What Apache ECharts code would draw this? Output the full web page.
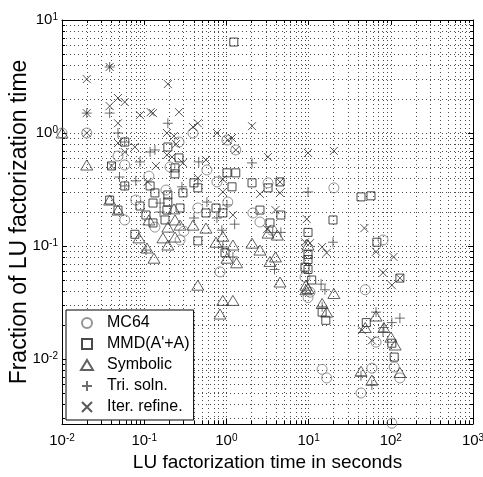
<!DOCTYPE html>
<html><head><meta charset="utf-8">
<script src="https://cdn.jsdelivr.net/npm/echarts@6/dist/echarts.min.js"></script>
<style>html,body{margin:0;padding:0;background:#fff}#c{width:483px;height:477px}</style>
</head><body><div id="c"></div>
<script>
const seriesNames = ['MC64', "MMD(A'+A)", 'Symbolic', 'Tri. soln.', 'Iter. refine.'];
const xTickExps = [-2, -1, 0, 1, 2, 3];
const yTickExps = [-2, -1, 0, 1];
const minorMult = [2, 3, 4, 5, 6, 7, 8, 9];
const xMin = 0.01, xMax = 1000, yMin = 0.00266, yMax = 10;
const xTitle = 'LU factorization time in seconds';
const yTitle = 'Fraction of LU factorization time';

const mc64 = [[0.01,1.0],[0.02,1.0],[0.048,0.626],[0.058,0.521],[0.206,0.501],[0.265,0.832],[0.114,0.415],[0.184,0.313],[0.058,0.170],[0.079,0.255],[0.135,0.147],[0.304,0.135],[0.449,0.217],[0.273,0.113],[0.392,1.0],[0.579,0.471],[0.767,0.369],[1.016,0.867],[1.30,0.708],[1.04,0.245],[3.21,0.362],[20.3,0.327],[2.10,0.196],[2.56,0.163],[3.56,0.138],[0.836,0.059],[9.04,0.053],[10.4,0.039],[9.84,0.035],[80.4,0.113],[48.9,0.041],[66.1,0.0141],[110,0.0085],[58.8,0.0083],[129,0.0068],[14.6,0.0081],[16.6,0.0068],[43.4,0.0050],[103,0.0027]];
const mmd = [[0.058,0.832],[0.04,0.511],[0.038,0.255],[0.048,0.208],[0.058,0.340],[0.194,0.752],[0.265,0.602],[0.237,0.491],[0.237,0.435],[0.118,0.340],[0.135,0.295],[0.403,0.362],[0.449,0.327],[0.194,0.283],[0.194,0.245],[0.296,0.295],[0.0888,0.226],[0.128,0.240],[0.189,0.208],[0.273,0.217],[0.105,0.188],[0.128,0.160],[0.179,0.170],[0.077,0.127],[0.449,0.111],[0.564,0.196],[0.747,0.217],[1.016,0.444],[1.30,0.444],[1.17,0.334],[2.05,0.362],[3.21,0.327],[4.49,0.369],[1.23,6.38],[2.56,0.208],[0.905,0.196],[0.962,0.087],[4.60,0.188],[3.39,0.160],[9.84,0.132],[9.84,0.084],[9.84,0.076],[9.04,0.065],[9.84,0.062],[10.9,0.050],[14.6,0.026],[16.2,0.022],[19.8,0.170],[43.4,0.272],[57.4,0.278],[67.7,0.108],[129,0.052],[50.3,0.021],[103,0.0138],[110,0.0104]];
const symbolic = [[0.01,1.0],[0.02,0.521],[0.038,0.255],[0.048,0.208],[0.23,0.213],[0.114,0.170],[0.194,0.147],[0.237,0.170],[0.273,0.153],[0.392,0.153],[0.0864,0.118],[0.169,0.118],[0.194,0.102],[0.237,0.120],[0.108,0.096],[0.1316,0.078],[0.449,0.045],[0.564,0.144],[0.905,0.122],[0.747,0.108],[1.016,0.078],[1.20,0.102],[1.33,0.071],[2.05,0.106],[2.56,0.092],[3.39,0.073],[3.95,0.080],[3.21,0.130],[4.17,0.125],[4.49,0.048],[0.905,0.033],[1.20,0.033],[0.836,0.025],[9.84,0.102],[9.27,0.045],[9.84,0.042],[9.27,0.041],[14.6,0.031],[16.6,0.026],[20.3,0.038],[66.1,0.024],[48.9,0.019],[82.3,0.019],[100.5,0.0156],[113,0.0133],[43.4,0.0078],[58.8,0.0065],[129,0.0076]];
const triSoln = [[0.02,1.50],[0.038,3.84],[0.038,1.50],[0.048,1.0],[0.118,0.679],[0.135,0.708],[0.0888,0.555],[0.05,0.408],[0.058,0.340],[0.058,0.832],[0.079,0.377],[0.156,0.240],[0.156,0.200],[0.403,0.177],[0.194,1.22],[0.461,0.555],[0.288,0.334],[0.579,0.245],[1.016,0.231],[2.05,0.544],[9.84,0.301],[0.767,0.177],[1.26,0.156],[0.881,0.138],[0.905,0.098],[1.20,0.080],[3.66,0.132],[4.60,0.132],[3.85,0.062],[14.2,0.046],[15.8,0.041],[19.8,0.108],[66.1,0.026],[80.4,0.0174],[82.3,0.019],[103,0.021],[129,0.023],[43.4,0.0071],[58.8,0.0059],[0.105,0.092],[14.6,0.029]];
const iterRefine = [[0.02,3.0],[0.038,3.84],[0.02,1.50],[0.02,1.0],[0.038,1.73],[0.048,2.04],[0.058,1.88],[0.0888,1.44],[0.12,1.53],[0.128,1.50],[0.265,1.53],[0.194,2.71],[0.048,1.22],[0.189,1.0],[0.23,0.94],[0.048,0.815],[0.077,0.752],[0.189,0.639],[0.218,0.614],[0.244,0.798],[0.139,0.511],[0.11,0.369],[0.058,0.679],[0.296,0.544],[0.449,1.22],[0.392,1.13],[0.767,1.0],[0.564,0.577],[0.449,0.400],[0.905,0.39],[2.05,1.15],[1.04,0.867],[1.17,0.903],[1.30,0.708],[3.21,0.614],[9.84,0.666],[20.3,0.694],[2.56,0.289],[4.49,0.295],[4.49,0.369],[0.905,0.301],[1.20,0.188],[3.95,0.208],[3.12,0.141],[9.5,0.173],[9.04,0.108],[10.4,0.106],[14.6,0.098],[16.6,0.087],[47.7,0.144],[66.1,0.089],[108,0.080],[80.4,0.058],[129,0.052],[103,0.045],[44.5,0.018],[58.8,0.0146],[0.04,0.511]];

const FONT = "'Liberation Sans', Arial, Helvetica, sans-serif";
const seriesData = [mc64, mmd, symbolic, triSoln, iterRefine];
const symbols = ['circle', 'path://M0,0L10,0L10,10L0,10Z', 'path://M6,0L12,10L0,10Z', 'path://M5,0L5,10M0,5L10,5', 'path://M0,0L10,10M0,10L10,0'];
const sizes = [10, 8, 12, 10, 8];
const colors = ['#7a7a7a', '#1e1e1e', '#3a3a3a', '#4a4a4a', '#2e2e2e'];

// minor grid positions (2..9 within each decade) for the log axes
const minorLines = [];
xTickExps.forEach(d => minorMult.forEach(m => { const v = m * Math.pow(10, d); if (v > xMin && v < xMax) minorLines.push([v, 1, 0]); }));
[-3].concat(yTickExps).forEach(d => minorMult.forEach(m => { const v = m * Math.pow(10, d); if (v > yMin && v < yMax) minorLines.push([1, v, 1]); }));

function expLabel(exps) {
  return function (v) {
    const l = Math.log10(v), e = Math.round(l);
    if (Math.abs(l - e) > 1e-6 || exps.indexOf(e) < 0) return '';
    return '{b|10}{s|' + e + '}';
  };
}
const rich = { b: { fontSize: 15, fontFamily: FONT, color: '#000' }, s: { fontSize: 10, fontFamily: FONT, color: '#000', verticalAlign: 'top' } };
const gridLine = { show: true, lineStyle: { color: '#4a4a4a', type: [1, 3], width: 1 } };
const axisLine = { show: true, onZero: false, lineStyle: { color: '#000', width: 1 } };

function mkAxis(kind, pos, main) {
  const isX = kind === 'x';
  return {
    type: 'log', logBase: 10, position: pos,
    min: isX ? xMin : yMin, max: isX ? xMax : yMax,
    axisLine: axisLine,
    axisTick: { show: true, inside: true, length: 5, lineStyle: { color: '#000' } },
    minorTick: { show: false },
    splitLine: main ? gridLine : { show: false },
    minorSplitLine: { show: false },
    axisLabel: main ? {
      show: true, showMinLabel: isX, margin: isX ? 9 : 4,
      formatter: expLabel(isX ? xTickExps : yTickExps), rich: rich
    } : { show: false },
    name: main ? (isX ? xTitle : yTitle) : '',
    nameLocation: 'middle',
    nameMoveOverlap: false,
    nameGap: isX ? 29 : 31,
    nameTextStyle: { fontFamily: FONT, fontSize: isX ? 19 : 23, color: '#000' }
  };
}

function renderMinor(params, api) {
  const cs = params.coordSys;
  const t = api.value(2);
  const dot = { stroke: '#4a4a4a', lineWidth: 1, lineDash: [1, 3], fill: null };
  const tk = { stroke: '#000', lineWidth: 1, fill: null };
  if (t === 0) {
    const x = Math.round(api.coord([api.value(0), 1])[0]) + 0.5;
    const y0 = cs.y, y1 = cs.y + cs.height;
    return { type: 'group', silent: true, children: [
      { type: 'line', shape: { x1: x, y1: y0, x2: x, y2: y1 }, style: dot },
      { type: 'line', shape: { x1: x, y1: y1, x2: x, y2: y1 - 3 }, style: tk },
      { type: 'line', shape: { x1: x, y1: y0, x2: x, y2: y0 + 3 }, style: tk }
    ]};
  }
  const y = Math.round(api.coord([1, api.value(1)])[1]) + 0.5;
  const x0 = cs.x, x1 = cs.x + cs.width;
  return { type: 'group', silent: true, children: [
    { type: 'line', shape: { x1: x0, y1: y, x2: x1, y2: y }, style: dot },
    { type: 'line', shape: { x1: x0, y1: y, x2: x0 + 3, y2: y }, style: tk },
    { type: 'line', shape: { x1: x1, y1: y, x2: x1 - 3, y2: y }, style: tk }
  ]};
}

const chart = echarts.init(document.getElementById('c'), null, { renderer: 'canvas' });
chart.setOption({
  animation: false,
  backgroundColor: '#fff',
  grid: { left: 62, right: 10, top: 20, bottom: 53, containLabel: false, outerBoundsMode: 'none' },
  xAxis: [mkAxis('x', 'bottom', true), mkAxis('x', 'top', false)],
  yAxis: [mkAxis('y', 'left', true), mkAxis('y', 'right', false)],
  legend: {
    orient: 'vertical', left: 66, top: 310,
    backgroundColor: '#fff', borderColor: '#000', borderWidth: 1,
    padding: [5, 4, 5, 14], itemGap: 5, itemWidth: 30, itemHeight: 10,
    symbolKeepAspect: true,
    textStyle: { fontFamily: FONT, fontSize: 16, color: '#000' },
    data: seriesNames
  },
  series: [{
    type: 'custom', name: 'minor-grid', data: minorLines, renderItem: renderMinor,
    encode: { x: 0, y: 1 }, z: 1, silent: true, clip: false, tooltip: { show: false }
  }].concat(seriesData.map((d, i) => ({
    name: seriesNames[i], type: 'scatter', data: d, z: 3,
    symbol: symbols[i], symbolSize: sizes[i], symbolKeepAspect: true,
    itemStyle: { color: 'rgba(0,0,0,0)', borderColor: colors[i], borderWidth: 1 },
    emphasis: { disabled: true }
  })))
});
</script></body></html>
